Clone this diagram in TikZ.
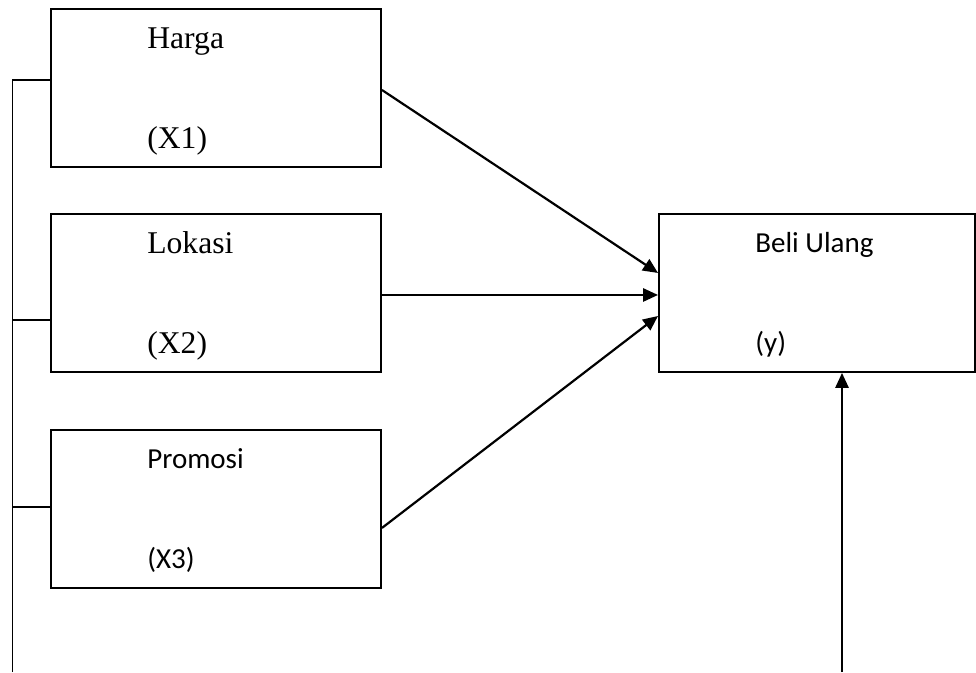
\documentclass[tikz,border=0pt]{standalone}
\usepackage{fontspec}
\setmainfont{Liberation Serif}
\newfontfamily\carlito{Carlito}
\usetikzlibrary{arrows.meta}

\tikzset{
  box/.style={draw,line width=1.1pt,minimum width=6.6cm,minimum height=3.16cm,anchor=north west,inner sep=0},
  lbl/.style={anchor=base west,inner sep=0,font=\fontsize{18}{21}\selectfont},
  lblsans/.style={anchor=base west,inner sep=0,font=\carlito\fontsize{16.5}{19}\selectfont},
  arr/.style={line width=1.25pt,-{Triangle[length=8.5pt,width=7.5pt]}},
  wire/.style={line width=1.1pt}
}

\begin{document}
\begin{tikzpicture}
                \useasboundingbox (0,0) rectangle (19.52,-13.44);
                % variabel bebas
                \node[box] (harga) at (1.0,-0.16) {};
                \node[box] (lokasi) at (1.0,-4.26) {};
                \node[box] (promosi) at (1.0,-8.58) {};
                % variabel terikat
                \node[box,minimum width=6.32cm] (beli) at (13.16,-4.26) {};
                \node[lbl] (hargaT) at (2.94,-0.96) {Harga};
                \node[lbl] (hargaX) at (2.94,-2.96) {(X1)};
                \node[lbl] (lokasiT) at (2.94,-5.06) {Lokasi};
                \node[lbl] (lokasiX) at (2.94,-7.06) {(X2)};
                \node[lblsans] (promosiT) at (2.94,-9.36) {Promosi};
                \node[lblsans] (promosiX) at (2.94,-11.36) {(X3)};
                \node[lblsans] (beliT) at (15.1,-5.04) {Beli Ulang};
                \node[lblsans] (beliY) at (15.1,-7.04) {(y)};
                % garis kiri
                \coordinate (kiriA) at (0.25,-1.6);
                \coordinate (kiriB) at (0.25,-6.4);
                \coordinate (kiriC) at (0.25,-10.14);
                \coordinate (kiriD) at (0.25,-13.44);
                \draw[wire] (kiriD) -- (kiriA) -- (kiriA -| harga.west);
                \draw[wire] (kiriB) -- (kiriB -| lokasi.west);
                \draw[wire] (kiriC) -- (kiriC -| promosi.west);
                % panah
                \draw[arr] ([yshift=-0.04cm]harga.east) -- ([yshift=0.4cm]beli.west);
                \draw[arr] ([yshift=-0.04cm]lokasi.east) -- ([yshift=-0.04cm]beli.west);
                \draw[arr] ([yshift=-0.38cm]promosi.east) -- ([yshift=-0.46cm]beli.west);
                \coordinate (bawah) at (16.84,-13.44);
                \draw[arr] (bawah) -- (bawah |- beli.south);
            \end{tikzpicture}
\end{document}
